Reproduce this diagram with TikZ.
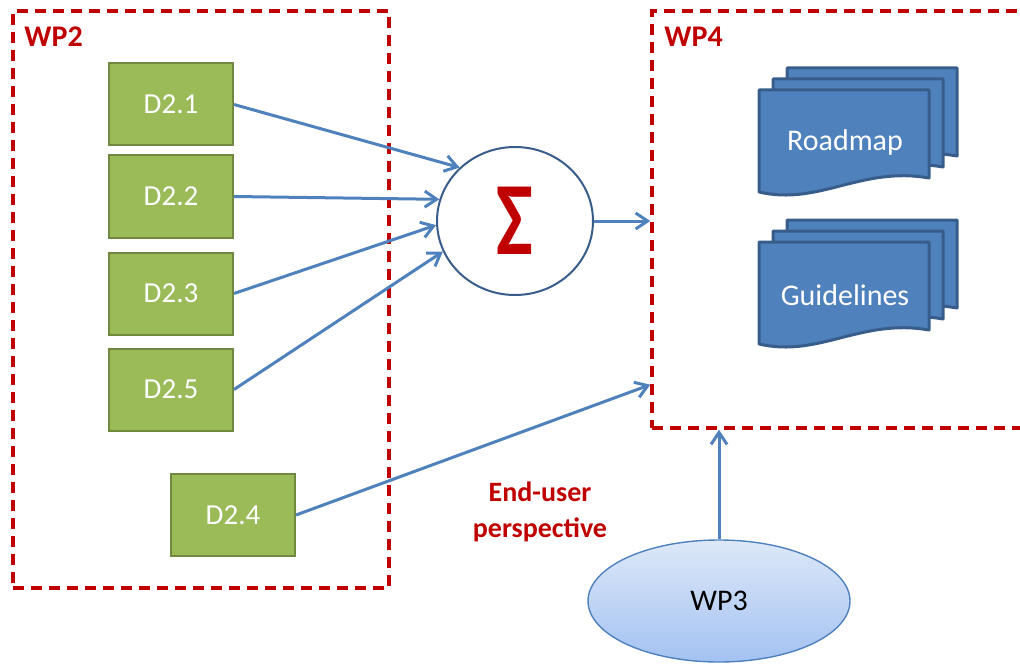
\documentclass[tikz,border=0pt]{standalone}
\usepackage{fontspec}
\setmainfont{Carlito}
\usepackage{tikz}
\usetikzlibrary{shapes,arrows.meta,positioning,calc}

\definecolor{wpred}{HTML}{C00000}
\definecolor{lgreen}{HTML}{9BBB59}
\definecolor{dgreen}{HTML}{71893F}
\definecolor{arrowblue}{HTML}{4F81BD}
\definecolor{docblue}{HTML}{4F81BD}
\definecolor{docline}{HTML}{385D8A}
\definecolor{wptop}{HTML}{DDE8F8}
\definecolor{wpbottom}{HTML}{A3C2F2}

% one sheet of a stacked document, top left corner at #1,#2
\newcommand{\docsheet}[2]{%
  \begin{scope}[shift={(#1,#2)}]
    \draw[sheet] (0,0) -- (170,0) -- (170,88) .. controls (102,76) and (60,116) .. (0,102) -- cycle;
  \end{scope}}

\begin{document}
\begin{tikzpicture}[
    x=0.5pt, y=-0.5pt,
    wpbox/.style={rectangle, draw=wpred, dash pattern=on 5.5pt off 3.5pt, line width=1.7pt, inner sep=0pt},
    wplabel/.style={text=wpred, font=\bfseries\fontsize{15}{18}\selectfont, anchor=west, inner sep=0pt},
    deliv/.style={rectangle, draw=dgreen, fill=lgreen, line width=1pt, minimum width=62pt, minimum height=41pt, text=white, font=\fontsize{14.5}{17}\selectfont},
    sumnode/.style={ellipse, draw=docline, line width=1pt, fill=white, minimum width=78pt, minimum height=74pt, text=wpred},
    wpthree/.style={ellipse, draw=arrowblue, line width=0.7pt, top color=wptop, bottom color=wpbottom, minimum width=131pt, minimum height=61pt, font=\fontsize{15}{18}\selectfont},
    sheet/.style={draw=docline, fill=docblue, line width=1.5pt, line join=round},
    doctext/.style={text=white, font=\fontsize{15}{18}\selectfont},
    note/.style={text=wpred, font=\bfseries\fontsize{14}{18}\selectfont, align=center},
    arrow/.style={-{Straight Barb[length=6pt,width=8pt]}, draw=arrowblue, line width=1.5pt}
]
    \useasboundingbox (0,0) rectangle (1020,663);
    \clip (0,0) rectangle (1020,663);

    % work package frames
    \node[wpbox, minimum width=188pt, minimum height=288.5pt] (wp2) at (201,299.5) {};
    \node[wplabel] (wp2title) at (24,37) {WP2};
    \node[wpbox, minimum width=194pt, minimum height=208.5pt] (wp4) at (846,219.5) {};
    \node[wplabel] (wp4title) at (664,37) {WP4};

    % deliverables
    \node[deliv] (d21) at (171,104.5) {D2.1};
    \node[deliv, below=4pt of d21] (d22) {D2.2};
    \node[deliv, below=6.5pt of d22] (d23) {D2.3};
    \node[deliv, below=6pt of d23] (d25) {D2.5};
    \node[deliv] (d24) at (233,515) {D2.4};

    \node[sumnode] (sum) at (515,221) {\scalebox{0.75}[1]{\fontsize{52}{52}\selectfont\bfseries Σ}};

    % stacked documents
    \docsheet{787}{68}
    \docsheet{773}{79}
    \docsheet{759}{90}
    \node[doctext] (roadmap) at (845,143) {Roadmap};
    \docsheet{787}{220}
    \docsheet{773}{231}
    \docsheet{759}{242}
    \node[doctext] (guidelines) at (845,295) {Guidelines};

    \node[wpthree] (wp3) at (719,601) {WP3};
    \node[note] (enduser) at (540,512) {End-user\\perspective};

    \draw[arrow] (d21.east) -- (sum.136);
    \draw[arrow] (d22.east) -- (sum.164);
    \draw[arrow] (d23.east) -- (sum.183);
    \draw[arrow] (d25.east) -- (sum.203);
    \draw[arrow] (sum.east) -- (sum.east -| wp4.west);
    \draw[arrow] (d24.east) -- ($(wp4.south west)+(0,-45)$);
    \draw[arrow] (wp3.north) -- (wp3.north |- wp4.south);
\end{tikzpicture}
\end{document}
